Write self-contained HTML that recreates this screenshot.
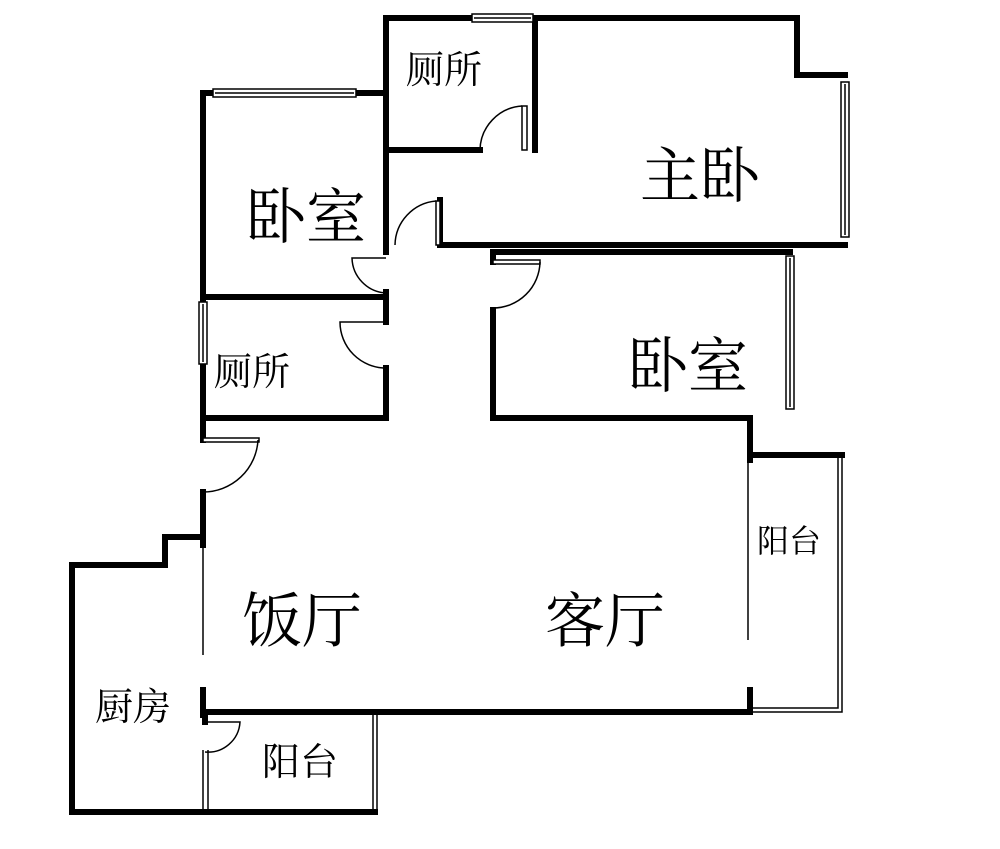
<!DOCTYPE html>
<html><head><meta charset="utf-8"><style>
html,body{margin:0;padding:0;background:#fff;}
svg{display:block}
text{font-family:"Liberation Serif","Noto Serif CJK SC","Noto Sans CJK SC",serif;fill:#000;}
</style></head><body>
<svg width="1000" height="849" viewBox="0 0 1000 849">
<g stroke="#000" stroke-width="6" fill="none" stroke-linecap="square">
<polyline points="386,150 386,18 797,18 797,75 845,75"/>
<line x1="535" y1="18" x2="535" y2="150"/>
<line x1="386" y1="150" x2="480" y2="150"/>
<polyline points="845,245 440,245 440,200"/>
<polyline points="386,93 203,93 203,418"/>
<line x1="386" y1="150" x2="386" y2="252"/>
<line x1="203" y1="297" x2="386" y2="297"/>
<line x1="386" y1="292" x2="386" y2="322"/>
<line x1="386" y1="368" x2="386" y2="418"/>
<line x1="203" y1="418" x2="386" y2="418"/>
<line x1="493" y1="252" x2="790" y2="252"/>
<line x1="493" y1="252" x2="493" y2="262"/>
<polyline points="493,310 493,418 750,418 750,460"/>
<line x1="750" y1="455" x2="842" y2="455"/>
<line x1="750" y1="690" x2="750" y2="712"/>
<line x1="203" y1="712" x2="750" y2="712"/>
<line x1="203" y1="418" x2="203" y2="440"/>
<line x1="203" y1="492" x2="203" y2="545"/>
<line x1="203" y1="690" x2="203" y2="715"/>
<polyline points="203,537 165,537 165,565 72,565 72,812 375,812"/>
<line x1="205" y1="715" x2="205" y2="722"/>
</g>
<g stroke="#000" stroke-width="1.5" fill="none">
<line x1="203" y1="545" x2="203" y2="655"/>
<line x1="748" y1="460" x2="748" y2="640"/>
<polyline points="842,455 842,712 750,712"/>
<polyline points="838,458 838,708 750,708"/>
<line x1="373" y1="715" x2="373" y2="812"/>
<line x1="377" y1="715" x2="377" y2="812"/>
<line x1="203" y1="750" x2="203" y2="812"/>
<line x1="208" y1="750" x2="208" y2="812"/>
</g>
<g stroke="#000" stroke-width="1.5" fill="#fff">
<rect x="472" y="14" width="61" height="8"/>
<line x1="474" y1="18" x2="531" y2="18"/>
<rect x="213" y="89" width="143" height="8"/>
<line x1="215" y1="93" x2="354" y2="93"/>
<rect x="841" y="82" width="8" height="155"/>
<line x1="845" y1="84" x2="845" y2="235"/>
<rect x="786" y="256" width="8" height="153"/>
<line x1="790" y1="258" x2="790" y2="407"/>
<rect x="199" y="302" width="8" height="62"/>
<line x1="203" y1="304" x2="203" y2="362"/>
</g>
<g stroke="#000" stroke-width="1.5" fill="none">
<rect x="522" y="106" width="5" height="44" fill="#fff"/>
<path d="M480,150 A45,45 0 0 1 522,106"/>
<rect x="436" y="201" width="4" height="44" fill="#fff"/>
<path d="M395,245 A45,45 0 0 1 436,201"/>
<path d="M386,258 L352,258 A36,36 0 0 0 386,293"/>
<path d="M386,322 L340,322 A46,46 0 0 0 386,368"/>
<rect x="493" y="260" width="47" height="4" fill="#fff"/>
<path d="M540,262 A47,47 0 0 1 493,308"/>
<rect x="203" y="438" width="56" height="4" fill="#fff"/>
<path d="M258,440 A55,55 0 0 1 203,492"/>
<path d="M205,722 L240,722 A32,32 0 0 1 205,752"/>
</g>
<g font-size="38">
<text x="406" y="83">厕所</text>
<text x="214" y="385">厕所</text>
<text x="95" y="720">厨房</text>
<text x="262" y="775">阳台</text>
</g>
<text x="757" y="552" font-size="32">阳台</text>
<g font-size="60">
<text x="640" y="197">主卧</text>
<text x="246" y="238">卧室</text>
<text x="628" y="387">卧室</text>
<text x="242" y="642">饭厅</text>
<text x="545" y="642">客厅</text>
</g>
</svg>
</body></html>
